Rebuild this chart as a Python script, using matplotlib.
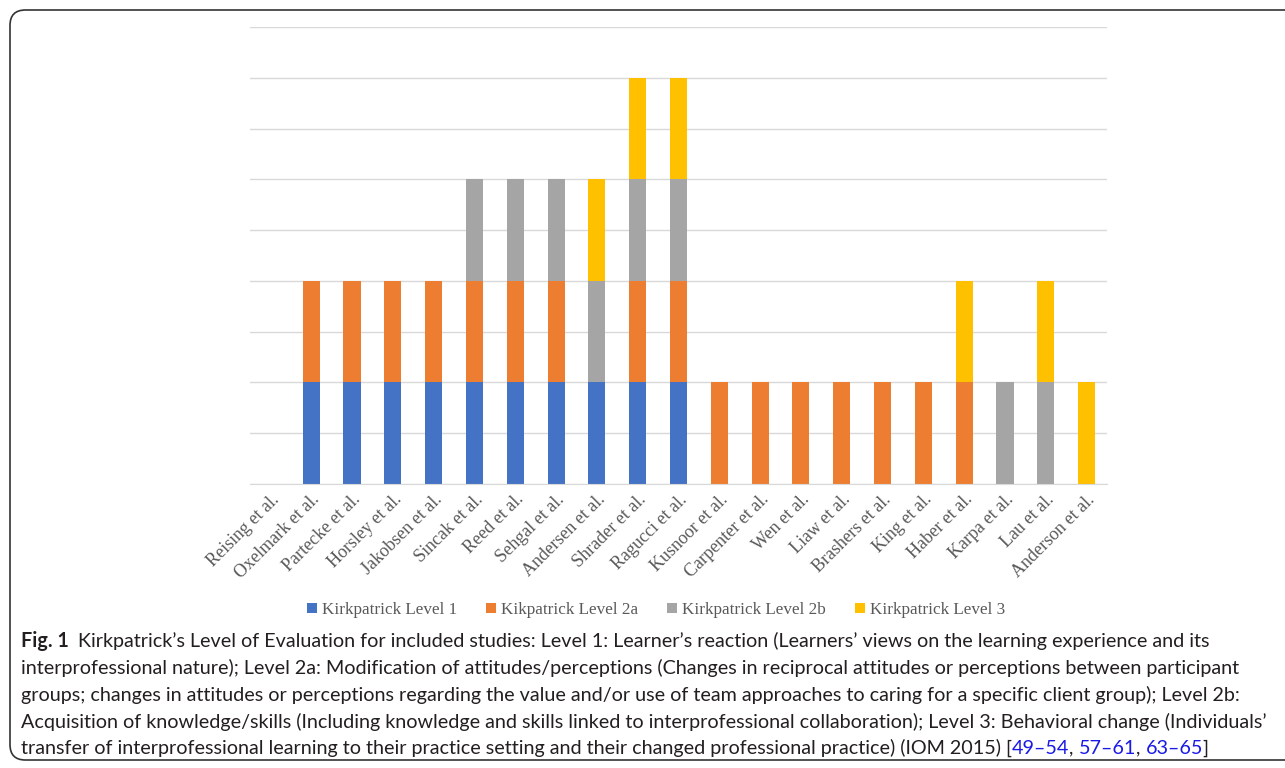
import matplotlib.pyplot as plt
import numpy as np
from matplotlib.patches import FancyBboxPatch

# ─── data ─────────────────────────────────────────────────────────────────────
studies = [
    "Reising et al.", "Oxelmark et al.", "Partecke et al.", "Horsley et al.",
    "Jakobsen et al.", "Sincak et al.", "Reed et al.", "Sehgal et al.",
    "Andersen et al.", "Shrader et al.", "Ragucci et al.", "Kusnoor et al.",
    "Carpenter et al.", "Wen et al.", "Liaw et al.", "Brashers et al.",
    "King et al.", "Haber et al.", "Karpa et al.", "Lau et al.", "Anderson et al.",
]
level_1  = [0, 1, 1, 1, 1, 1, 1, 1, 1, 1, 1, 0, 0, 0, 0, 0, 0, 0, 0, 0, 0]
level_2a = [0, 1, 1, 1, 1, 1, 1, 1, 0, 1, 1, 1, 1, 1, 1, 1, 1, 1, 0, 0, 0]
level_2b = [0, 0, 0, 0, 0, 1, 1, 1, 1, 1, 1, 0, 0, 0, 0, 0, 0, 0, 1, 1, 0]
level_3  = [0, 0, 0, 0, 0, 0, 0, 0, 1, 1, 1, 0, 0, 0, 0, 0, 0, 1, 0, 1, 1]

series = [
    ("Kirkpatrick Level 1", level_1, "#4472C4"),
    ("Kikpatrick Level 2a", level_2a, "#ED7D31"),
    ("Kirkpatrick Level 2b", level_2b, "#A5A5A5"),
    ("Kirkpatrick Level 3", level_3, "#FFC000"),
]

caption_first = "Kirkpatrick\u2019s Level of Evaluation for included studies: Level 1: Learner\u2019s reaction (Learners\u2019 views on the learning experience and its"
caption_lines = [
    "interprofessional nature); Level 2a: Modification of attitudes/perceptions (Changes in reciprocal attitudes or perceptions between participant",
    "groups; changes in attitudes or perceptions regarding the value and/or use of team approaches to caring for a specific client group); Level 2b:",
    "Acquisition of knowledge/skills (Including knowledge and skills linked to interprofessional collaboration); Level 3: Behavioral change (Individuals\u2019",
]
caption_last = "transfer of interprofessional learning to their practice setting and their changed professional practice) (IOM 2015) ["
refs = ["49\u201354", "57\u201361", "63\u201365"]

# ─── figure ───────────────────────────────────────────────────────────────────
W, H = 1285, 768
fig = plt.figure(figsize=(W / 100, H / 100), dpi=100)

# rounded frame around the figure (open at the right edge)
frame = FancyBboxPatch((10 / W, 8 / H), 1300 / W, 750 / H,
                       boxstyle="round,pad=0,rounding_size=0.012",
                       transform=fig.transFigure, fill=False,
                       edgecolor="#333333", linewidth=1.2, mutation_aspect=W / H)
fig.patches.append(frame)

ax = fig.add_axes([250 / W, 1 - 484 / H, 857 / W, 457 / H])
x = np.arange(len(studies))
bottom = np.zeros(len(studies))
for name, vals, color in series:
    ax.bar(x, vals, width=0.42, bottom=bottom, color=color, label=name, zorder=3)
    bottom += np.array(vals)

ax.set_xlim(-0.5, len(studies) - 0.5)
ax.set_ylim(0, 4.5)
ax.set_yticks(np.arange(0, 4.51, 0.5))
ax.set_yticklabels([])
ax.tick_params(axis="y", length=0)
ax.grid(axis="y", color="#D9D9D9", linewidth=1, zorder=0)
for s in ["top", "right", "left"]:
    ax.spines[s].set_visible(False)
ax.spines["bottom"].set_color("#D9D9D9")
ax.spines["bottom"].set_zorder(4)

ax.set_xticks(x)
ax.set_xticklabels(studies, rotation=45, ha="right", rotation_mode="anchor",
                   family="Liberation Serif", fontsize=13, color="#595959")
ax.tick_params(axis="x", length=0, pad=5)

fig.legend(loc="center", bbox_to_anchor=(656 / W, 1 - 610 / H), ncol=4,
           frameon=False, handlelength=0.6, handleheight=0.6, handletextpad=0.3,
           columnspacing=1.67, prop={"family": "Liberation Serif", "size": 12.3},
           labelcolor="#595959")

# ─── caption ──────────────────────────────────────────────────────────────────
cap_font = "Lato"
cap_color = "#231F20"
x0 = 21
line_y = [641, 668, 695, 722, 748]

fig.canvas.draw()
renderer = fig.canvas.get_renderer()

# pick the font size so the longest line spans the same width as in the print
probe = fig.text(0, 0, caption_lines[2], family=cap_font, fontsize=12)
cap_size = 12 * (1265 - x0) / probe.get_window_extent(renderer).width
probe.remove()


def put(px, py, s, **kw):
    # place text in pixel coordinates (origin top-left)
    kw.setdefault("color", cap_color)
    t = fig.text(px / W, 1 - py / H, s, family=cap_font, fontsize=cap_size,
                 va="center", **kw)
    return t, t.get_window_extent(renderer).x1


_, xe = put(x0, line_y[0], "Fig. 1", fontweight="bold")
put(xe + 9, line_y[0], caption_first)
for i, line in enumerate(caption_lines):
    put(x0, line_y[i + 1], line)

_, xe = put(x0, line_y[4], caption_last)
for j, r in enumerate(refs):
    _, xe = put(xe, line_y[4], r, color="#1A1AE6")
    _, xe = put(xe, line_y[4], ", " if j < len(refs) - 1 else "]")

fig.savefig("out.png", dpi=100)
